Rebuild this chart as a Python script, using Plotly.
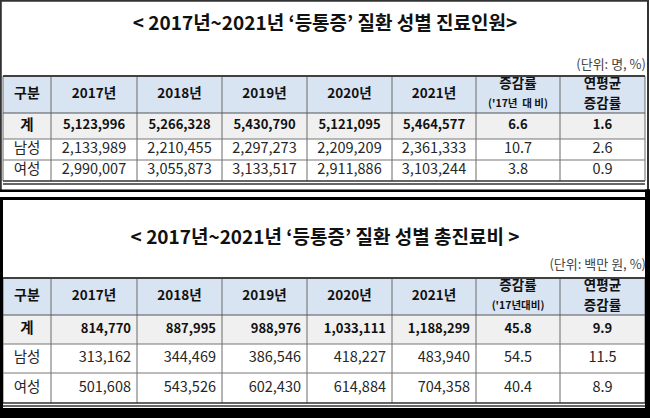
import plotly.graph_objects as go

# ---------------- data ----------------
title1 = "< 2017년~2021년 ‘등통증’ 질환 성별 진료인원>"
title2 = "< 2017년~2021년 ‘등통증’ 질환 성별 총진료비 >"
unit1 = "(단위: 명, %)"
unit2 = "(단위: 백만 원, %)"
years = ["2017년", "2018년", "2019년", "2020년", "2021년"]
row_labels = ["계", "남성", "여성"]
rate_label1 = "('17년  대 비)"
rate_label2 = "('17년대비)"
avg_label = ["연평균", "증감률"]

patients_total = [5123996, 5266328, 5430790, 5121095, 5464577]
patients_male = [2133989, 2210455, 2297273, 2209209, 2361333]
patients_female = [2990007, 3055873, 3133517, 2911886, 3103244]
patients_rate = [6.6, 10.7, 3.8]
patients_avg = [1.6, 2.6, 0.9]

cost_total = [814770, 887995, 988976, 1033111, 1188299]
cost_male = [313162, 344469, 386546, 418227, 483940]
cost_female = [501608, 543526, 602430, 614884, 704358]
cost_rate = [45.8, 54.5, 40.4]
cost_avg = [9.9, 11.5, 8.9]

# ---------------- layout geometry (pixel space) ----------------
W, H = 650, 418
FONT = "Noto Sans CJK KR"
col_edges = [3, 51, 137, 222, 307, 392, 476, 560, 645]
t1 = dict(title_y=25, unit_y=66, rows=[76, 113, 139, 160, 181])
t2 = dict(title_y=239, unit_y=266, rows=[278, 315, 344, 373, 403])
HEAD_BG = "#d9e4f2"
SUM_BG = "#f0f0f0"

fig = go.Figure()
shapes = []


def rect(x0, y0, x1, y1, fill, layer="below"):
    shapes.append(dict(type="rect", xref="x", yref="y", x0=x0, y0=y0, x1=x1, y1=y1,
                       fillcolor=fill, line=dict(width=0), layer=layer))


def line(x0, y0, x1, y1, color, width):
    shapes.append(dict(type="line", xref="x", yref="y", x0=x0, y0=y0, x1=x1, y1=y1,
                       line=dict(color=color, width=width), layer="above"))


def text_trace(xs, ys, texts, size, bold=False, pos="middle center", color="#111111"):
    fig.add_trace(go.Scatter(
        x=xs, y=ys, mode="text", text=texts, textposition=pos,
        textfont=dict(family=FONT, size=size, color=color,
                      weight="bold" if bold else "normal"),
        hoverinfo="skip", showlegend=False, cliponaxis=False))


def fmt(v):
    return f"{v:,}"


def draw_table(g, title, unit, rate_label, data_rows, rates, avgs, right_align):
    r = g["rows"]
    left, right = col_edges[0], col_edges[-1]
    # backgrounds
    rect(left, r[0], right, r[1], HEAD_BG)
    rect(left, r[1], right, r[2], SUM_BG)
    # title & unit
    text_trace([W / 2], [g["title_y"]], [title], 19, bold=True, color="#111111")
    text_trace([right + 1], [g["unit_y"]], [unit], 13, pos="middle left", color="#444444")
    # grid lines
    for x in col_edges:
        line(x, r[0], x, r[-1], "#6a6a6a", 1)
    line(left, r[0], right, r[0], "#404040", 2)
    line(left, r[1], right, r[1], "#555555", 1.2)
    line(left, r[2], right, r[2], "#777777", 1)
    line(left, r[3], right, r[3], "#777777", 1)
    line(left, r[4], right, r[4], "#333333", 1.5)
    line(left, r[4] + 3, right, r[4] + 3, "#333333", 1.5)
    centers = [(col_edges[i] + col_edges[i + 1]) / 2 for i in range(len(col_edges) - 1)]
    hy = (r[0] + r[1]) / 2
    # header
    text_trace([centers[0]], [hy], ["구분"], 14, bold=True)
    text_trace(centers[1:6], [hy] * 5, years, 13.5, bold=True)
    text_trace([centers[6]], [hy - 10], ["증감률"], 13.5, bold=True)
    text_trace([centers[6]], [hy + 10], [rate_label], 10.5, bold=True)
    text_trace([centers[7]], [hy - 10], [avg_label[0]], 13.5, bold=True)
    text_trace([centers[7]], [hy + 10], [avg_label[1]], 13.5, bold=True)
    # body
    for i, (lab, vals) in enumerate(zip(row_labels, data_rows)):
        y = (r[i + 1] + r[i + 2]) / 2
        bold = i == 0
        col = "#111111" if bold else "#262626"
        size = 13 if bold else 14.5
        text_trace([centers[0]], [y], [lab], 14.5, bold=bold, color=col)
        if right_align:
            xs = [col_edges[k + 2] - 6 for k in range(5)]
            text_trace(xs, [y] * 5, [fmt(v) for v in vals], size, bold=bold,
                       pos="middle left", color=col)
        else:
            text_trace(centers[1:6], [y] * 5, [fmt(v) for v in vals], size, bold=bold, color=col)
        text_trace([centers[6]], [y], [f"{rates[i]:.1f}"], size, bold=bold, color=col)
        text_trace([centers[7]], [y], [f"{avgs[i]:.1f}"], size, bold=bold, color=col)


draw_table(t1, title1, unit1, rate_label1,
           [patients_total, patients_male, patients_female],
           patients_rate, patients_avg, right_align=False)
draw_table(t2, title2, unit2, rate_label2,
           [cost_total, cost_male, cost_female],
           cost_rate, cost_avg, right_align=True)

# ---------------- outer frames ----------------
line(0, 0.8, 649, 0.8, "#333333", 2)
line(0.8, 0, 0.8, 191, "#333333", 2)
line(648, 0, 648, 191, "#333333", 2)
rect(0, 189.5, 650, 192, "#000000", layer="above")
rect(645, 189.5, 650, 418, "#000000", layer="above")
rect(0, 197, 650, 200, "#000000", layer="above")
rect(0, 197, 3, 418, "#000000", layer="above")
rect(0, 408, 650, 418, "#000000", layer="above")

fig.update_layout(
    width=W, height=H, margin=dict(l=0, r=0, t=0, b=0),
    paper_bgcolor="white", plot_bgcolor="white",
    xaxis=dict(range=[0, W], visible=False, fixedrange=True),
    yaxis=dict(range=[H, 0], visible=False, fixedrange=True),
    shapes=shapes, showlegend=False,
)
fig.write_html(
    "out.html",
    config={"displayModeBar": False},
    post_script="document.body.style.margin='0px';document.body.style.overflow='hidden';",
)
